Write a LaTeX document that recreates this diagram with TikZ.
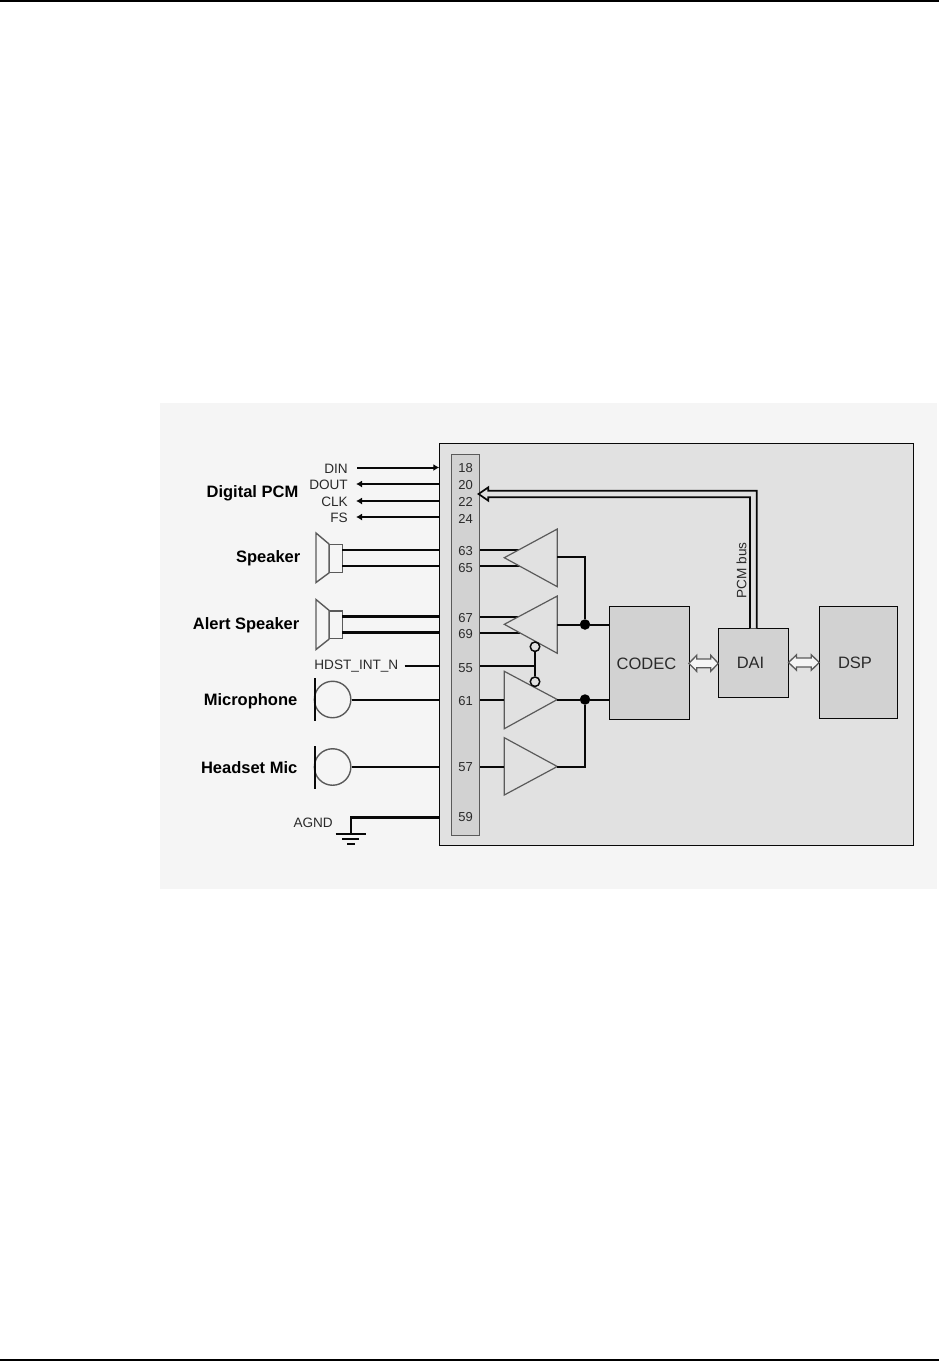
\documentclass[tikz,border=0pt]{standalone}
\usepackage{fontspec}
\setmainfont{Liberation Sans}
\usetikzlibrary{arrows.meta}
\definecolor{panel}{HTML}{F5F5F5}
\definecolor{chip}{HTML}{E1E1E1}
\definecolor{block}{HTML}{D2D2D2}
\definecolor{edge}{HTML}{5A5A5A}
\definecolor{ink}{HTML}{080808}
\definecolor{txt}{HTML}{2A2A2A}
\tikzset{
  blockbox/.style={draw=ink,line width=1.1pt,fill=block,inner sep=0pt,anchor=north west},
  lbl/.style={inner sep=0pt,font=\fontsize{16.5}{16.5}\selectfont\bfseries,text=black},
  sig/.style={inner sep=0pt,font=\fontsize{13.6}{13.6}\selectfont,text=txt},
  pinlbl/.style={inner sep=0pt,font=\fontsize{13}{13}\selectfont,text=txt},
  blk/.style={inner sep=0pt,font=\fontsize{16.5}{16.5}\selectfont,text=txt},
  wire/.style={draw=ink,line width=2pt},
  thickwire/.style={draw=ink,line width=2.5pt},
  gfx/.style={draw=edge,line width=1.4pt},
  amp/.style={draw=edge,line width=1.2pt,fill=chip},
  tip/.style={-{Latex[length=6pt,width=7pt]}},
  dbl/.style={draw=edge,line width=1.3pt,fill=panel,line join=miter},
  jun/.style={circle,fill=black,inner sep=0pt,minimum size=10.5pt},
  bubble/.style={circle,draw=ink,line width=1.5pt,fill=chip,inner sep=0pt,minimum size=9.5pt},
}
\begin{document}
\begin{tikzpicture}[x=1pt,y=-1pt]
\useasboundingbox (0,0) rectangle (939,1361);
\fill[white] (0,0) rectangle (939,1361);
\draw[black,line width=1.4pt] (0,0.8) -- (939,0.8);
\draw[black,line width=1.4pt] (0,1359.8) -- (939,1359.8);
\fill[panel] (160,403) rectangle (937,889);
% chip and strip
\node[draw=ink,line width=1.1pt,fill=chip,inner sep=0pt,anchor=north west,minimum width=474pt,minimum height=402pt] (chip) at (439.3,443) {};
\node[draw=edge,line width=1.2pt,fill=block,inner sep=0pt,anchor=north west,minimum width=28pt,minimum height=381pt] (strip) at (450.8,454) {};
% blocks
\node[blockbox,minimum width=79.5pt,minimum height=113pt] (codec) at (609.3,606.3) {};
\node[blockbox,minimum width=70pt,minimum height=68.4pt] (dai) at (718.3,628.3) {};
\node[blockbox,minimum width=78pt,minimum height=112pt] (dsp) at (819.3,606.3) {};
\node[blk] (codectxt) at (646.5,663.5) {CODEC};
\node[blk] (daitxt) at (750.5,662.5) {DAI};
\node[blk] (dsptxt) at (855,662.5) {DSP};
% pin numbers
\foreach \n/\y in {18/468.5,20/485,22/501.5,24/518.5,63/551.5,65/568,67/618,69/634.5,55/668,61/701,57/767.5,59/817.5}{
  \node[pinlbl] (p\n) at (465.5,\y) {\n};
}
% labels
\node[lbl,anchor=east] (lpcm) at (298.5,493) {Digital PCM};
\node[lbl,anchor=east] (lspk) at (300.5,558.5) {Speaker};
\node[lbl,anchor=east] (lalr) at (299.5,625) {Alert Speaker};
\node[lbl,anchor=east] (lmic) at (297.5,701) {Microphone};
\node[lbl,anchor=east] (lhs) at (297.5,767.5) {Headset Mic};
\node[sig,anchor=east] (din) at (348,468.5) {DIN};
\node[sig,anchor=east] (dout) at (348,484.5) {DOUT};
\node[sig,anchor=east] (clk) at (348,501.5) {CLK};
\node[sig,anchor=east] (fs) at (348,518) {FS};
\node[sig,anchor=east] (hdst) at (398.5,666) {HDST\_INT\_N};
\node[sig,anchor=east] (agnd) at (333,822.5) {AGND};
\node[sig,rotate=90] (pcmbus) at (741.5,570.5) {PCM bus};
% digital PCM
\coordinate (edin) at (357,467.5);
\coordinate (edout) at (356,484);
\coordinate (eclk) at (356,501);
\coordinate (efs) at (356,517);
\draw[wire,tip] (edin) -- (edin -| chip.west);
\draw[thickwire,tip] (edout -| chip.west) -- (edout);
\draw[thickwire,tip] (eclk -| chip.west) -- (eclk);
\draw[thickwire,tip] (efs -| chip.west) -- (efs);
% speakers
\node[gfx,draw,inner sep=0pt,fill=panel,anchor=north west,minimum width=13pt,minimum height=27.5pt] (spkA) at (329,544) {};
\draw[gfx,fill=panel] (spkA.north west) -- (316,533) -- (316,582.5) -- (spkA.south west) -- cycle;
\node[gfx,draw,inner sep=0pt,fill=panel,anchor=north west,minimum width=13pt,minimum height=27.5pt] (spkB) at (329,610.3) {};
\draw[gfx,fill=panel] (spkB.north west) -- (316,599.5) -- (316,649.5) -- (spkB.south west) -- cycle;
\coordinate (a63) at (342,550);
\coordinate (a65) at (342,565.5);
\coordinate (a67) at (342,616.5);
\coordinate (a69) at (342,632.5);
\draw[thickwire] (a63) -- (a63 -| chip.west);
\draw[wire] (a65) -- (a65 -| chip.west);
\draw[thickwire] (a67) -- (a67 -| chip.west);
\draw[thickwire] (a69) -- (a69 -| chip.west);
% amps
\coordinate (t1t) at (504.3,557.7); \coordinate (t1a) at (557.3,529); \coordinate (t1b) at (557.3,586.7);
\coordinate (t2t) at (504.3,624.3); \coordinate (t2a) at (557.3,596); \coordinate (t2b) at (557.3,653.3);
\coordinate (t3t) at (557.3,699.5); \coordinate (t3a) at (504.3,671.3); \coordinate (t3b) at (504.3,728.7);
\coordinate (t4t) at (557.3,766.5); \coordinate (t4a) at (504.3,737.7); \coordinate (t4b) at (504.3,795);
\draw[thickwire] (strip.east |- a63) -- (520,550);
\draw[wire] (strip.east |- a65) -- (520,565.5);
\draw[wire] (strip.east |- a67) -- (520,616.5);
\draw[wire] (strip.east |- a69) -- (520,632.5);
\draw[amp] (t1t) -- (t1a) -- (t1b) -- cycle;
\draw[amp] (t2t) -- (t2a) -- (t2b) -- cycle;
\draw[amp] (t3t) -- (t3a) -- (t3b) -- cycle;
\draw[amp] (t4t) -- (t4a) -- (t4b) -- cycle;
% hdst
\coordinate (ehdst) at (404.5,665.5);
\draw[wire] (ehdst) -- (ehdst -| chip.west);
\node[bubble] (bA) at (535,646.7) {};
\node[bubble] (bB) at (535,681.7) {};
\draw[wire] (bA) -- (bB);
\draw[wire] (strip.east |- ehdst) -- (535,665.5);
% mics
\node[circle,gfx,draw,inner sep=0pt,minimum size=36.5pt] (mA) at (332.6,699.5) {};
\node[circle,gfx,draw,inner sep=0pt,minimum size=36.5pt] (mB) at (332.6,767) {};
\draw[draw=ink,line width=2.6pt] (315,678) -- (315,721);
\draw[draw=ink,line width=2.6pt] (315,746) -- (315,789);
\draw[wire] (mA.east) -- (mA.east -| chip.west);
\draw[thickwire] (mB.east) -- (mB.east -| chip.west);
\draw[wire] (strip.east |- mA.east) -- (t3a |- mA.east);
\draw[wire] (strip.east |- mB.east) -- (t4a |- mB.east);
% ground
\coordinate (g0) at (351,834);
\draw[thickwire,line join=miter] (chip.west |- p59) ++(0,0.2) -| (g0);
\draw[thickwire] (335.7,834) -- (366,834);
\draw[thickwire,line width=1.8pt] (342,839.3) -- (359,839.3);
\draw[thickwire,line width=1.8pt] (347,844.3) -- (355,844.3);
% amp outputs
\node[jun] (j1) at (585,624.5) {};
\node[jun] (j2) at (585,699.5) {};
\draw[wire] (557.3,556.5) -| (j1);
\draw[wire] (557.3,624.5) -- (j1) -- (codec.west |- j1);
\draw[wire] (t3t) -- (j2) -- (codec.west |- j2);
\draw[wire] (t4t) -| (j2);
% PCM bus
\draw[draw=ink,line width=1.7pt,fill=chip] (750,628.3) -- (750,497.3) -- (488.3,497.3) -- (488.3,500.7) -- (478.6,494) -- (488.3,487.3) -- (488.3,490.7) -- (756.7,490.7) -- (756.7,628.3);
% double arrows
\coordinate (d1l) at (688.9,663.3); \coordinate (d1r) at (718.3,663.3);
\draw[dbl] (d1l) -- (696.7,655.3) -- (696.7,659) -- (710.7,659) -- (710.7,655.3) -- (d1r) -- (710.7,671.3) -- (710.7,667.8) -- (696.7,667.8) -- (696.7,671.3) -- cycle;
\coordinate (d2l) at (788.5,662.5); \coordinate (d2r) at (819.3,662.5);
\draw[dbl] (d2l) -- (796.5,654.8) -- (796.5,658) -- (811.3,658) -- (811.3,654.8) -- (d2r) -- (811.3,670.2) -- (811.3,667) -- (796.5,667) -- (796.5,670.2) -- cycle;
\end{tikzpicture}
\end{document}
